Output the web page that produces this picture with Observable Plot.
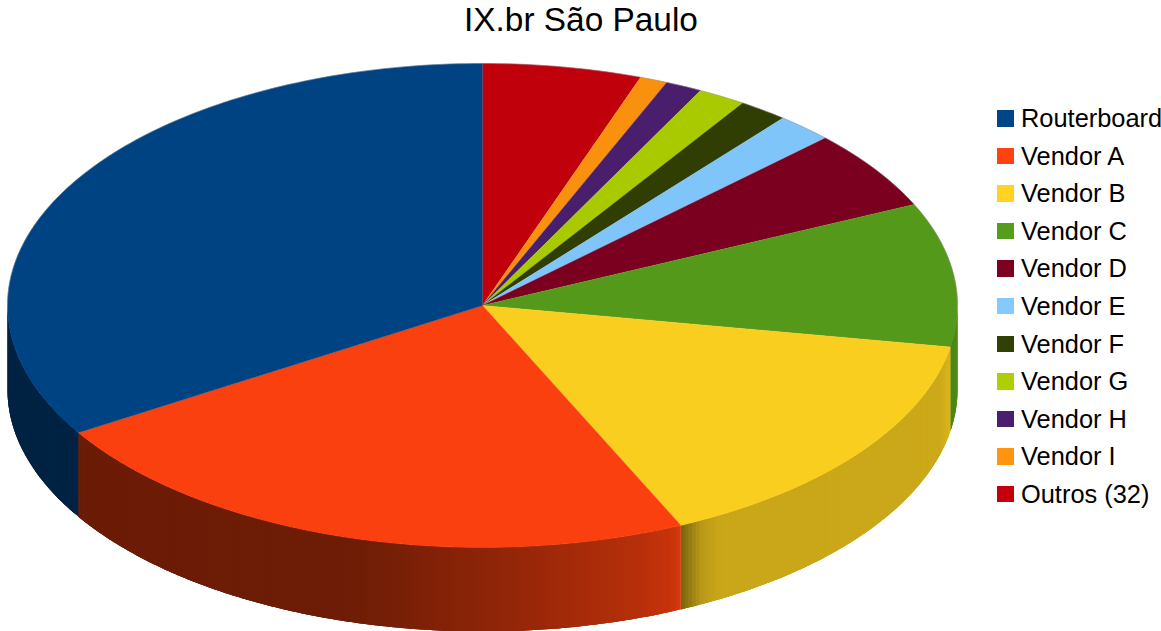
<!DOCTYPE html>
<html>
<head>
<meta charset="utf-8">
<script src="https://cdn.jsdelivr.net/npm/d3@7"></script>
<script src="https://cdn.jsdelivr.net/npm/@observablehq/plot@0.6"></script>
<style>
html,body{margin:0;padding:0;background:#fff;overflow:hidden}
#wrap{position:relative;width:1161px;height:631px;font-family:"Liberation Sans",Arial,sans-serif;color:#000}
#wrap svg{position:absolute;left:0;top:0}
#title{position:absolute;left:0;width:1162px;top:1px;text-align:center;font-size:33.4px;line-height:38px}
#legend{position:absolute;left:997px;top:99px}
.row{position:relative;height:37.6px;width:164px;white-space:nowrap}
.sw{position:absolute;left:0;top:11px;width:16.5px;height:16.5px}
.lb{position:absolute;left:24px;top:4px;font-size:25.4px;line-height:30px}
</style>
</head>
<body>
<div id="wrap"><div id="title">IX.br São Paulo</div><div id="legend"></div></div>
<script>
const categories = ["Routerboard","Vendor A","Vendor B","Vendor C","Vendor D","Vendor E","Vendor F","Vendor G","Vendor H","Vendor I","Outros (32)"];
const shares = [33.8,23.05,15.4,9.6,5.3,1.94,1.67,1.64,1.25,0.94,5.4];
const palette = ["#004586","#ff420e","#ffd320","#579d1c","#7e0021","#83caff","#314004","#aecf00","#4b1f6f","#ff950e","#c5000b"];
// wall shading: [angle in degrees clockwise from the top, brightness]
const wallShade = {
  "Routerboard": [[238,0.5],[270,0.5]],
  "Vendor A": [[155.4,0.86],[156.2,0.79],[160.5,0.72],[170.5,0.63],[180,0.55],[190,0.47],[197,0.43],[238.5,0.42]],
  "Vendor B": [[99.7,0.86],[106,0.8],[150,0.79],[152.7,0.72],[155.4,0.46]],
  "Vendor C": [[90,0.87],[100,0.87]]
};
const faceShade = 0.975;

const total = d3.sum(shares);
const rad = d => d * Math.PI / 180;
const depth = 84 / 242;               // wall height relative to the vertical radius
const px = t => Math.sin(rad(t));
const py = t => Math.cos(rad(t));
const scaled = (c, k) => { const q = d3.rgb(c); return d3.rgb(q.r*k, q.g*k, q.b*k).formatHex(); };

// slices run clockwise from the top, last category first
let acc = 0;
const slices = categories.map((name, i) => ({name, color: palette[i], share: shares[i]})).reverse()
  .map(s => { const a0 = acc; acc += s.share / total * 360; return {...s, a0, a1: acc}; });

const faces = [], walls = [];
for (const s of slices) {
  const id = "top-" + s.name, color = scaled(s.color, faceShade);
  faces.push({id, color, x: 0, y: 0});
  const n = Math.ceil(s.a1 - s.a0);
  for (let k = 0; k <= n; k++) {
    const t = s.a0 + (s.a1 - s.a0) * k / n;
    faces.push({id, color, x: px(t), y: py(t)});
  }
  const lo = Math.max(s.a0, 90), hi = Math.min(s.a1, 270);
  if (hi > lo && wallShade[s.name]) {
    const stops = wallShade[s.name];
    const shade = d3.scaleLinear(stops.map(d => d[0]), stops.map(d => d[1])).clamp(true);
    const m = Math.ceil((hi - lo) * 2);
    const step = (hi - lo) / m;
    for (let k = 0; k < m; k++) {
      const t0 = lo + step * k;
      // each piece runs under the next one, so no seams show between them
      const t1 = Math.min(hi, t0 + step * 3);
      const c = scaled(s.color, shade(t0 + step / 2));
      const wid = s.name + k;
      const ts = [t0, Math.min(hi, t0 + step), Math.min(hi, t0 + step * 2), t1];
      for (const t of ts) walls.push({id: wid, color: c, x: px(t), y: py(t)});
      for (const t of ts.slice().reverse()) walls.push({id: wid, color: c, x: px(t), y: py(t) - depth});
    }
  }
}
const rim = d3.range(-90, 91, 1).map(t => ({x: px(t), y: py(t)}));

const chart = Plot.plot({
  width: 1161, height: 631,
  margin: 0,
  x: {domain: [-1, 1], range: [7, 957], axis: null},
  y: {domain: [-1, 1], range: [547, 63], axis: null},
  color: {type: "identity"},
  style: {background: "transparent"},
  marks: [
    Plot.line(walls, {x: "x", y: "y", z: "id", fill: "color", stroke: "none", curve: "linear"}),
    Plot.line(faces, {x: "x", y: "y", z: "id", fill: "color", stroke: "color", strokeWidth: 0.4, curve: "linear"}),
    Plot.line(rim, {x: "x", y: "y", stroke: "#8a8a8a", strokeWidth: 0.6, strokeOpacity: 0.7, curve: "linear"})
  ]
});
const wrap = document.getElementById("wrap");
wrap.insertBefore(chart, wrap.firstChild);

const legend = document.getElementById("legend");
categories.forEach((name, i) => {
  const row = document.createElement("div"); row.className = "row";
  const sw = document.createElement("div"); sw.className = "sw"; sw.style.background = palette[i];
  const lb = document.createElement("div"); lb.className = "lb"; lb.textContent = name;
  row.append(sw, lb); legend.append(row);
});
</script>
</body>
</html>
